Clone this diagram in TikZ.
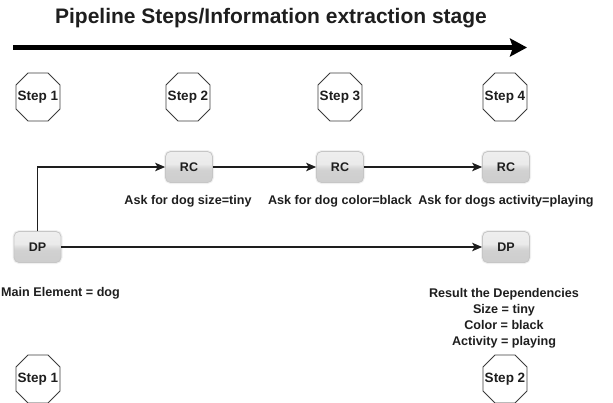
\documentclass[tikz,border=0pt]{standalone}
\usepackage{fontspec}
\setmainfont{Liberation Sans}
\usetikzlibrary{arrows.meta}
\definecolor{txt}{HTML}{1E1E1E}
\definecolor{octline}{HTML}{3C3C3C}
\pgfdeclareverticalshading{btnshade}{100bp}{%
  color(0bp)=(gray!42); color(45bp)=(gray!36); color(50bp)=(gray!28);
  color(55bp)=(gray!16); color(100bp)=(gray!10)}
\tikzset{
  lbl/.style={font=\fontsize{12.6}{15}\selectfont\bfseries, text=txt, inner sep=0pt},
  octtxt/.style={font=\fontsize{13.5}{16}\selectfont\bfseries, text=txt, inner sep=0pt},
  btn/.style={rounded corners=5pt, minimum width=47pt, minimum height=31pt,
    shading=btnshade, draw=gray!45, line width=0.8pt, inner sep=0pt,
    font=\fontsize{12.5}{15}\selectfont\bfseries, text=txt,
    preaction={draw=gray!12, line width=3pt}},
  conn/.style={line width=1.1pt, draw=txt, -{Stealth[length=10pt,width=8.5pt,inset=2.5pt]}},
  octedge/.style={draw=octline, line width=0.9pt}
}
\newcommand{\octstep}[4]{%
  \node[octtxt] (#1) at (#2,#3) {#4};
  \draw[octedge] (#2,#3) ++(-10,-24) -- ++(20,0) -- ++(12,12) -- ++(0,24)
    -- ++(-12,12) -- ++(-20,0) -- ++(-12,-12) -- ++(0,-24) -- cycle;}
\begin{document}
\begin{tikzpicture}[x=1pt,y=-1pt]
\useasboundingbox (0,0) rectangle (613,402);
\clip (0,0) rectangle (613,402);
% title
\node[font=\fontsize{21}{25}\selectfont\bfseries, text=txt, inner sep=0pt] (title) at (271,18) {Pipeline Steps/Information extraction stage};
% big arrow
\coordinate (ba) at (13,47.5);
\coordinate (bb) at (527,47.5);
\draw[line width=5pt, draw=black, -{Stealth[length=17pt,width=18pt,inset=3pt]}] (ba) -- (bb);
% step octagons top
\octstep{s1}{38}{97}{Step 1}
\octstep{s2}{188}{97}{Step 2}
\octstep{s3}{340}{97}{Step 3}
\octstep{s4}{505}{97}{Step 4}
% RC boxes
\node[btn] (rc1) at (189,167) {RC};
\node[btn] (rc2) at (340,167) {RC};
\node[btn] (rc3) at (506,167) {RC};
% DP boxes
\node[btn] (dp1) at (37.5,247) {DP};
\node[btn] (dp2) at (506,247) {DP};
% connectors
\draw[conn] (dp1.north) |- (rc1.west);
\draw[conn] (rc1.east) -- (rc2.west);
\draw[conn] (rc2.east) -- (rc3.west);
\draw[conn] (dp1.east) -- (dp2.west);
% labels
\node[lbl] (l1) at (188,201) {Ask for dog size=tiny};
\node[lbl] (l2) at (340,201) {Ask for dog color=black};
\node[lbl] (l3) at (506,201) {Ask for dogs activity=playing};
\node[lbl, anchor=west] (me) at (1,293) {Main Element = dog};
\node[lbl, align=center, anchor=north, font=\fontsize{12.6}{16}\selectfont\bfseries] (res) at (504,288.5)
  {Result the Dependencies\\Size = tiny\\Color = black\\Activity = playing};
% bottom octagons
\octstep{b1}{38}{379}{Step 1}
\octstep{b2}{505}{379}{Step 2}
\end{tikzpicture}
\end{document}
